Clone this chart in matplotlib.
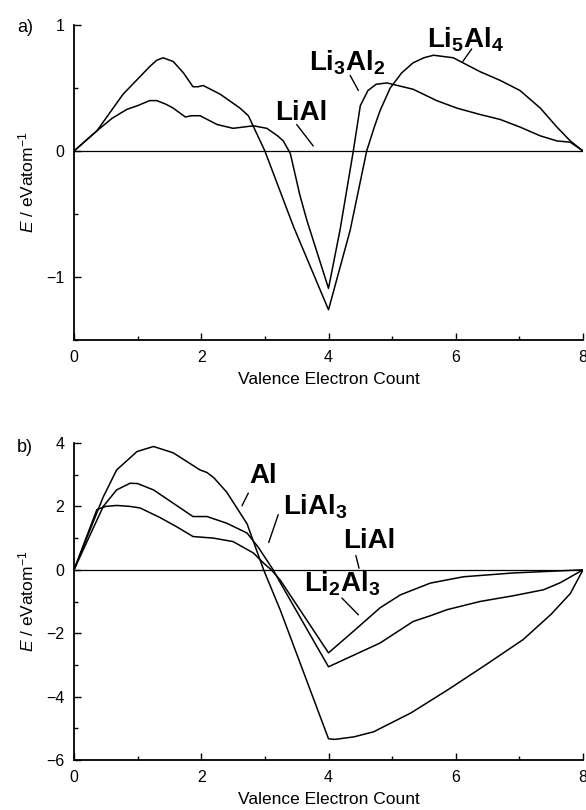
import matplotlib
matplotlib.use("Agg")
import matplotlib.pyplot as plt
from matplotlib.ticker import MultipleLocator

plt.rcParams['font.family'] = ['Liberation Sans', 'DejaVu Sans']
plt.rcParams['mathtext.fontset'] = 'custom'
plt.rcParams['mathtext.rm'] = 'Liberation Sans'
plt.rcParams['mathtext.it'] = 'Liberation Sans:italic'
plt.rcParams['mathtext.bf'] = 'Liberation Sans:bold'

# ---- panel a data (energies relative to LiAl) ----
li5al4_x = [0, 0.36, 0.77, 1.19, 1.30, 1.40, 1.56, 1.72, 1.87, 1.95, 2.03, 2.30, 2.61, 2.74,
            3.0, 3.45, 4.0, 4.34, 4.6, 4.72, 4.81, 4.97, 5.15, 5.33, 5.50, 5.65, 5.96, 6.38,
            6.70, 7.01, 7.33, 7.59, 7.8, 8.0]
li5al4_y = [0, 0.16, 0.45, 0.67, 0.72, 0.74, 0.71, 0.62, 0.51, 0.51, 0.52, 0.45, 0.34, 0.28,
            0.0, -0.6, -1.26, -0.63, 0.0, 0.19, 0.32, 0.50, 0.62, 0.70, 0.74, 0.76, 0.74, 0.63,
            0.56, 0.48, 0.34, 0.19, 0.08, 0.0]

li3al2_x = [0, 0.36, 0.6, 0.83, 1.0, 1.19, 1.30, 1.45, 1.56, 1.75, 1.85, 1.98, 2.25, 2.50,
            2.82, 3.03, 3.20, 3.29, 3.40, 3.55, 3.66, 4.0, 4.18, 4.39, 4.5, 4.62, 4.75, 4.92,
            5.33, 5.70, 6.02, 6.38, 6.70, 7.01, 7.33, 7.59, 7.80, 8.0]
li3al2_y = [0, 0.16, 0.26, 0.33, 0.36, 0.40, 0.40, 0.37, 0.34, 0.27, 0.28, 0.28, 0.21, 0.18,
            0.20, 0.18, 0.12, 0.08, -0.02, -0.35, -0.55, -1.09, -0.63, 0.0, 0.36, 0.48, 0.53,
            0.54, 0.49, 0.40, 0.34, 0.29, 0.25, 0.19, 0.12, 0.08, 0.07, 0.0]

# ---- panel b data ----
al_x = [0, 0.2, 0.46, 0.67, 0.99, 1.25, 1.56, 1.77, 1.98, 2.09, 2.2, 2.40, 2.72, 2.98, 3.24,
        4.0, 4.1, 4.4, 4.71, 5.3, 5.88, 6.47, 7.06, 7.5, 7.8, 8.0]
al_y = [0, 1.0, 2.3, 3.15, 3.73, 3.89, 3.69, 3.42, 3.15, 3.07, 2.9, 2.45, 1.45, 0.0, -1.26,
        -5.33, -5.35, -5.27, -5.11, -4.51, -3.78, -3.0, -2.2, -1.4, -0.75, 0.0]

lial3_x = [0, 0.46, 0.67, 0.88, 1.0, 1.25, 1.56, 1.87, 2.09, 2.40, 2.72, 2.9, 3.13, 3.24,
           4.0, 4.81, 5.33, 5.6, 5.86, 6.38, 6.9, 7.38, 7.64, 8.0]
lial3_y = [0, 2.0, 2.52, 2.73, 2.72, 2.52, 2.1, 1.68, 1.68, 1.47, 1.16, 0.7, 0.0, -0.4,
           -3.06, -2.31, -1.63, -1.45, -1.26, -1.0, -0.82, -0.63, -0.41, 0.0]

li2al3_x = [0, 0.36, 0.5, 0.67, 0.88, 1.04, 1.35, 1.62, 1.87, 2.19, 2.50, 2.82, 2.98, 3.1,
            3.24, 4.0, 4.42, 4.81, 5.13, 5.6, 6.12, 6.9, 8.0]
li2al3_y = [0, 1.9, 2.0, 2.03, 2.0, 1.95, 1.65, 1.35, 1.05, 1.0, 0.89, 0.53, 0.21, 0.0,
            -0.32, -2.62, -1.89, -1.2, -0.79, -0.42, -0.22, -0.10, 0.0]

lial_x = [0, 8]
lial_y = [0, 0]

# label text, text position, leader line start, leader line end
labels_a = [
    ("LiAl", (3.57, 0.30), (3.50, 0.21), (3.76, 0.04)),
    (r"Li$_\mathbf{3}$Al$_\mathbf{2}$", (4.29, 0.70), (4.34, 0.60), (4.47, 0.48)),
    (r"Li$_\mathbf{5}$Al$_\mathbf{4}$", (6.16, 0.88), (6.25, 0.81), (6.11, 0.71)),
]
labels_b = [
    ("Al", (2.97, 2.95), (2.74, 2.42), (2.64, 2.02)),
    (r"LiAl$_\mathbf{3}$", (3.80, 2.0), (3.21, 1.74), (3.06, 0.86)),
    ("LiAl", (4.64, 0.92), (4.43, 0.45), (4.48, 0.05)),
    (r"Li$_\mathbf{2}$Al$_\mathbf{3}$", (4.22, -0.45), (4.21, -0.89), (4.47, -1.42)),
]

fig = plt.figure(figsize=(5.86, 8.10), dpi=100)
W, H = 586, 810
ax_a = fig.add_axes([74 / W, 1 - 340 / H, 509 / W, 315 / H])
ax_b = fig.add_axes([74 / W, 1 - 760 / H, 509 / W, 317 / H])

lw = 1.1
ax_a.plot(lial_x, lial_y, color='black', lw=0.9)
ax_a.plot(li5al4_x, li5al4_y, color='black', lw=lw)
ax_a.plot(li3al2_x, li3al2_y, color='black', lw=lw)

ax_b.plot(lial_x, lial_y, color='black', lw=0.9)
ax_b.plot(al_x, al_y, color='black', lw=lw)
ax_b.plot(lial3_x, lial3_y, color='black', lw=lw)
ax_b.plot(li2al3_x, li2al3_y, color='black', lw=lw)

ax_a.set_ylim(-1.5, 1)
ax_a.yaxis.set_major_locator(MultipleLocator(1))
ax_a.yaxis.set_minor_locator(MultipleLocator(0.5))
ax_b.set_ylim(-6, 4)
ax_b.yaxis.set_major_locator(MultipleLocator(2))
ax_b.yaxis.set_minor_locator(MultipleLocator(1))

for ax, labels in ((ax_a, labels_a), (ax_b, labels_b)):
    ax.set_xlim(0, 8)
    ax.xaxis.set_major_locator(MultipleLocator(2))
    ax.xaxis.set_minor_locator(MultipleLocator(1))
    ax.spines['top'].set_visible(False)
    ax.spines['right'].set_visible(False)
    ax.spines['left'].set_linewidth(1.3)
    ax.spines['bottom'].set_linewidth(1.3)
    ax.tick_params(which='both', direction='in', width=1, labelsize=11.5, pad=7)
    ax.tick_params(which='major', length=5)
    ax.tick_params(which='minor', length=3)
    ax.yaxis.set_major_formatter(plt.FuncFormatter(
        lambda v, p: ('\u2212%d' % -v) if v < 0 else '%d' % v))
    ax.set_xlabel("Valence Electron Count", fontsize=12.5, labelpad=5)
    ax.set_ylabel(r"$E$ / eVatom$^{-1}$", fontsize=12.5)
    ax.yaxis.set_label_coords(-0.073, 0.5)
    for text, tpos, p0, p1 in labels:
        ax.text(tpos[0], tpos[1], text, fontsize=20, fontweight='bold',
                ha='center', va='center')
        ax.annotate("", xy=p1, xytext=p0,
                    arrowprops=dict(arrowstyle='-', color='black', lw=1.0,
                                    shrinkA=0, shrinkB=0))

fig.text(25 / W, 1 - 28 / H, "a)", fontsize=13, ha='center', va='center')
fig.text(25 / W, 1 - 448 / H, "b)", fontsize=13, ha='center', va='center')

fig.savefig("out.png", dpi=100)
